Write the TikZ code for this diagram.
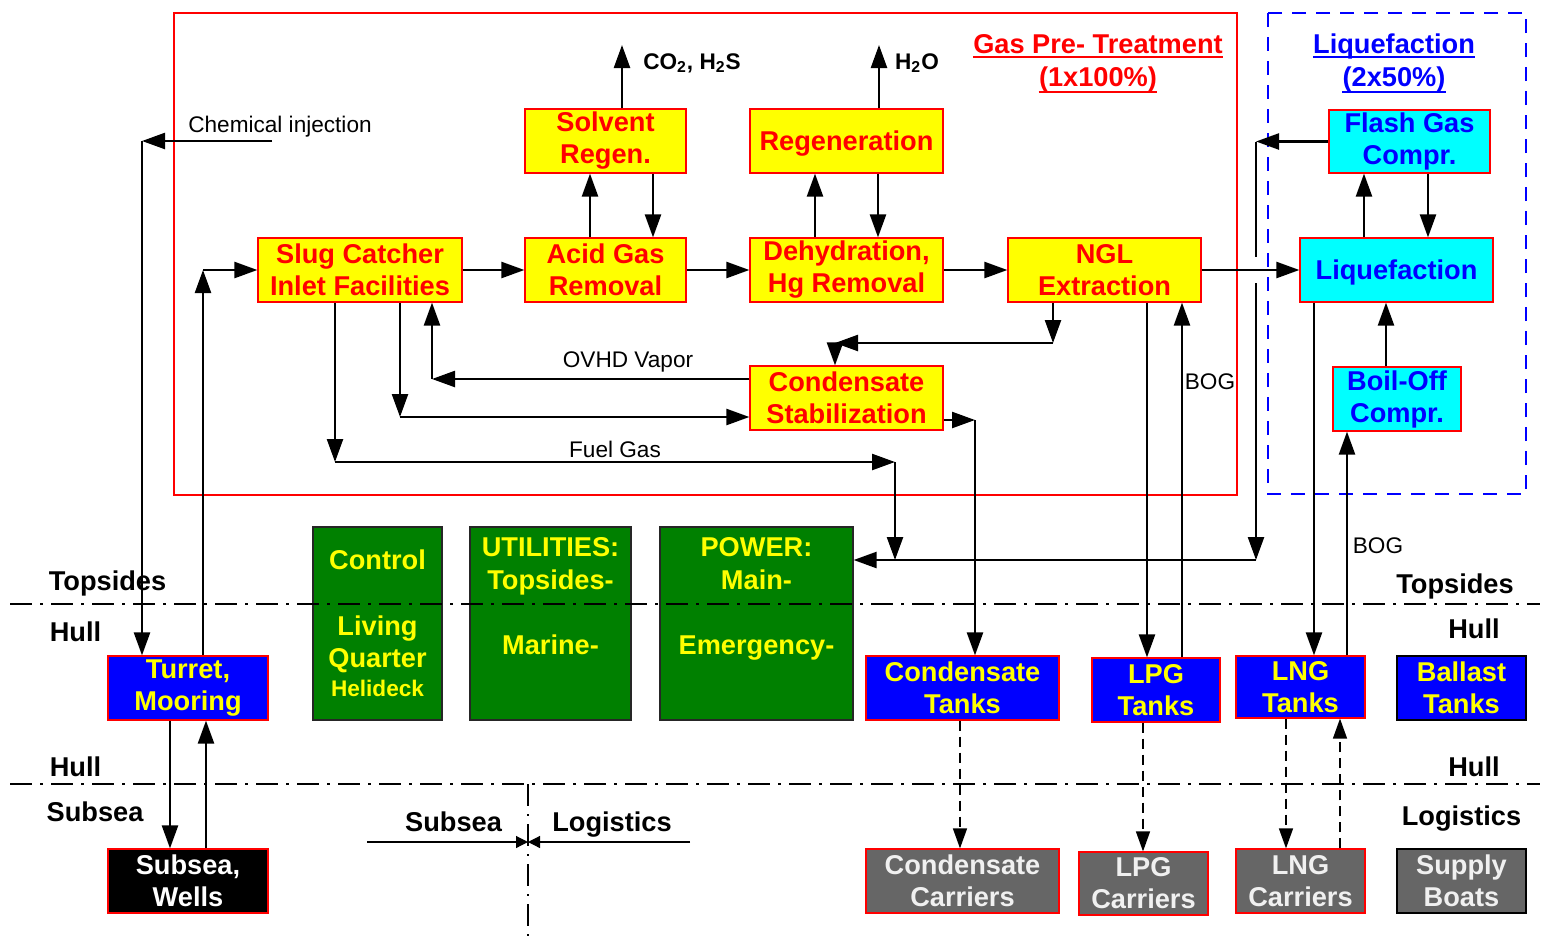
\documentclass[tikz,border=0pt]{standalone}
\usepackage{fontspec}
\setmainfont{Liberation Sans}
\usetikzlibrary{arrows.meta}
\definecolor{boxgreen}{HTML}{008000}
\definecolor{boxgray}{HTML}{666666}
\definecolor{graytext}{HTML}{F0F0F0}
\definecolor{boxcyan}{HTML}{00FFFF}
\definecolor{txtblue}{HTML}{0000FF}
\definecolor{txtred}{HTML}{FF0000}
\definecolor{boxyellow}{HTML}{FFFF00}
\newcommand\boxfont{\bfseries\fontsize{13.6}{16}\selectfont}
\newcommand\smallbold{\bfseries\fontsize{11.3}{13}\selectfont}
\newcommand\labfont{\fontsize{11.3}{13}\selectfont}
\begin{document}
\begin{tikzpicture}[x=0.5pt,y=-0.5pt,
  box/.style={draw=txtred, line width=0.6pt, inner sep=0pt, align=center, font=\boxfont},
  ybox/.style={box, fill=boxyellow, text=txtred},
  cbox/.style={box, fill=boxcyan, text=txtblue},
  bbox/.style={box, fill=txtblue, text=boxyellow},
  grbox/.style={box, fill=boxgray, text=graytext},
  oneline/.style={text height=9.7pt, text depth=0pt},
  gbox/.style={draw=black!85, line width=0.6pt, fill=boxgreen, inner sep=0pt},
  gtxt/.style={inner sep=0pt, font=\boxfont, text=boxyellow, text height=9.7pt, text depth=0pt},
  blab/.style={inner sep=0pt, font=\boxfont, text height=9.7pt, text depth=0pt},
  lab/.style={inner sep=0pt, font=\labfont, text height=8.1pt, text depth=0pt},
  arr/.style={line width=1.2pt, -{Triangle[length=11.5pt,width=8pt]}},
  ln/.style={line width=1.2pt},
  darr/.style={line width=0.7pt, dash pattern=on 5pt off 3pt, -{Triangle[length=10pt,width=7pt]}},
  tarr/.style={line width=0.6pt, -{Triangle[length=6pt,width=6pt]}},
  sepline/.style={line width=1.4pt, dash pattern=on 11pt off 4pt on 1.5pt off 4pt},
  vsep/.style={line width=0.8pt, dash pattern=on 11pt off 4pt on 1pt off 4pt},
  uline/.style={line width=1.1pt}]
\useasboundingbox (0,0) rectangle (1544,943);
\fill[white] (0,0) rectangle (1544,943);

% frames
\draw[txtred, line width=1pt] (174,13) rectangle (1237,495);
\draw[txtblue, line width=1pt, dash pattern=on 7pt off 5pt] (1268,13) rectangle (1526,494);
\node[blab, text=txtred] (gptA) at (1098,44) {Gas Pre- Treatment};
\node[blab, text=txtred] (gptB) at (1098,77) {(1x100\%)};
\node[blab, text=txtblue] (lqA) at (1394,44) {Liquefaction};
\node[blab, text=txtblue] (lqB) at (1394,77) {(2x50\%)};
\draw[uline, txtred] ([yshift=-1.6pt]gptA.south west) -- ([yshift=-1.6pt]gptA.south east);
\draw[uline, txtred] ([yshift=-2.6pt]gptB.south west) -- ([yshift=-2.6pt]gptB.south east);
\draw[uline, txtblue] ([yshift=-1.6pt]lqA.south west) -- ([yshift=-1.6pt]lqA.south east);
\draw[uline, txtblue] ([yshift=-2.6pt]lqB.south west) -- ([yshift=-2.6pt]lqB.south east);

% process boxes
\node[ybox, minimum width=102pt, minimum height=32pt] (slug) at (360,270) {Slug Catcher\\Inlet Facilities};
\node[ybox, minimum width=80.5pt, minimum height=32pt] (acid) at (605.5,270) {Acid Gas\\Removal};
\node[ybox, minimum width=80.5pt, minimum height=32pt] (solv) at (605.5,141) {Solvent\\Regen.};
\node[ybox, oneline, minimum width=96.5pt, minimum height=32pt] (regen) at (846.5,141) {Regeneration};
\node[ybox, minimum width=96.5pt, minimum height=32pt] (dehy) at (846.5,270) {Dehydration,\\Hg Removal};
\node[ybox, minimum width=96.5pt, minimum height=32pt] (ngl) at (1104.5,270) {NGL\\Extraction};
\node[ybox, minimum width=96.5pt, minimum height=32pt] (cstab) at (846.5,398) {Condensate\\Stabilization};
\node[cbox, minimum width=80.5pt, minimum height=31.5pt] (flash) at (1409.5,141.5) {Flash Gas\\Compr.};
\node[cbox, oneline, minimum width=96.5pt, minimum height=32pt] (liq) at (1396.5,270) {Liquefaction};
\node[cbox, minimum width=64pt, minimum height=32pt] (boil) at (1397,399) {Boil-Off\\Compr.};

% hull / subsea boxes
\node[bbox, minimum width=80pt, minimum height=32pt] (turret) at (188,688) {Turret,\\Mooring};
\node[box, fill=black, text=white, minimum width=80pt, minimum height=32pt] (wells) at (188,881) {Subsea,\\Wells};
\node[bbox, minimum width=96.5pt, minimum height=32pt] (ctank) at (962.5,688) {Condensate\\Tanks};
\node[bbox, minimum width=64pt, minimum height=32pt] (lpgt) at (1156,690) {LPG\\Tanks};
\node[bbox, minimum width=64.5pt, minimum height=31pt] (lngt) at (1300.5,687) {LNG\\Tanks};
\node[bbox, draw=black, minimum width=64.5pt, minimum height=32pt] (ballast) at (1461.5,688) {Ballast\\Tanks};
\node[grbox, minimum width=96.5pt, minimum height=32pt] (ccar) at (962.5,881) {Condensate\\Carriers};
\node[grbox, minimum width=64.5pt, minimum height=31.5pt] (lpgc) at (1143.5,883.5) {LPG\\Carriers};
\node[grbox, minimum width=64.5pt, minimum height=32pt] (lngc) at (1300.5,881) {LNG\\Carriers};
\node[grbox, draw=black, minimum width=64.5pt, minimum height=32pt] (supply) at (1461.5,881) {Supply\\Boats};

% green boxes
\node[gbox, minimum width=64.5pt, minimum height=96.5pt] (control) at (377.5,623.5) {};
\node[gbox, minimum width=80.5pt, minimum height=96.5pt] (util) at (550.5,623.5) {};
\node[gbox, minimum width=96.5pt, minimum height=96.5pt] (power) at (756.5,623.5) {};
\node[gtxt] (ctlA) at (377.5,560) {Control};
\node[gtxt] (ctlB) at (377.5,626) {Living};
\node[gtxt] (ctlC) at (377.5,658) {Quarter};
\node[gtxt, font=\smallbold, text height=8.1pt] (ctlD) at (377.5,688) {Helideck};
\node[gtxt] (utA) at (550.5,547) {UTILITIES:};
\node[gtxt] (utB) at (550.5,580) {Topsides-};
\node[gtxt] (utC) at (550.5,645) {Marine-};
\node[gtxt] (pwA) at (756.5,547) {POWER:};
\node[gtxt] (pwB) at (756.5,580) {Main-};
\node[gtxt] (pwD) at (756.5,645) {Emergency-};

% zone labels
\node[blab] (lTop) at (107.5,581) {Topsides};
\node[blab] (lHull1) at (75.5,632) {Hull};
\node[blab] (lHull2) at (75.5,767) {Hull};
\node[blab] (lSub) at (95,812) {Subsea};
\node[blab] (rTop) at (1455,584) {Topsides};
\node[blab] (rHull1) at (1474,629) {Hull};
\node[blab] (rHull2) at (1474,767) {Hull};
\node[blab] (rLog) at (1461.5,816) {Logistics};
\node[blab] (mSub) at (453.5,822) {Subsea};
\node[blab] (mLog) at (612,822) {Logistics};

% flow labels
\node[lab] (ciL) at (280,124) {Chemical injection};
\node[lab, font=\smallbold] (co2L) at (692,61) {CO\textsubscript{2}, H\textsubscript{2}S};
\node[lab, font=\smallbold] (h2oL) at (917,61) {H\textsubscript{2}O};
\node[lab] (ovhdL) at (628,359) {OVHD Vapor};
\node[lab] (fuelL) at (615,449) {Fuel Gas};
\node[lab] (bog1) at (1210,381) {BOG};
\node[lab] (bog2) at (1378,545) {BOG};

% coordinates for connector bends
\coordinate (ciS) at (272,141);
\coordinate (ciC) at (142,141);
\coordinate (tuC) at (203,270);
\coordinate (x590) at (590,0);
\coordinate (x653) at (653,0);
\coordinate (co2) at (622,45);
\coordinate (x815) at (815,0);
\coordinate (x878) at (878,0);
\coordinate (h2o) at (879,45);
\coordinate (fgC) at (1256,141.5);
\coordinate (fgG1) at (1256,257);
\coordinate (fgG2) at (1256,283);
\coordinate (pwC) at (1256,560);
\coordinate (fA) at (335,462);
\coordinate (fB) at (895,462);
\coordinate (fC) at (895,560);
\coordinate (sA) at (400,417);
\coordinate (oA) at (432,379);
\coordinate (nA) at (1053,343);
\coordinate (nB) at (835,343);
\coordinate (cA) at (975,420);
\coordinate (x1147) at (1147,0);
\coordinate (x1182) at (1182,0);
\coordinate (x1314) at (1314,0);
\coordinate (x1347) at (1347,0);
\coordinate (x1386) at (1386,0);
\coordinate (x1364) at (1364,0);
\coordinate (x1428) at (1428,0);
\coordinate (x170) at (170,0);
\coordinate (x206) at (206,0);
\coordinate (x960) at (960,0);
\coordinate (x1143) at (1143,0);
\coordinate (x1286) at (1286,0);
\coordinate (x1340) at (1340,0);
\coordinate (sl) at (528,842);
\coordinate (slL) at (367,842);
\coordinate (slR) at (690,842);

% connectors
\draw[arr] (ciS) -- (ciC);
\draw[arr] (ciC) -- (ciC |- turret.north);
\draw[arr] (tuC |- turret.north) -- (tuC);
\draw[arr] (tuC) -- (slug.west);
\draw[arr] (slug.east) -- (acid.west);
\draw[arr] (acid.east) -- (dehy.west);
\draw[arr] (dehy.east) -- (ngl.west);
\draw[arr] (acid.north -| x590) -- (solv.south -| x590);
\draw[arr] (solv.south -| x653) -- (acid.north -| x653);
\draw[arr] (solv.north -| co2) -- (co2);
\draw[arr] (dehy.north -| x815) -- (regen.south -| x815);
\draw[arr] (regen.south -| x878) -- (dehy.north -| x878);
\draw[arr] (regen.north -| h2o) -- (h2o);
\draw[arr] (ngl.east) -- (liq.west);
\draw[arr] (flash.west) -- (fgC);
\draw[ln] (fgC) -- (fgG1);
\draw[arr] (fgG2) -- (pwC);
\draw[arr] (pwC) -- (power.east |- pwC);
\draw[arr] (slug.south -| fA) -- (fA);
\draw[arr] (fA) -- (fB);
\draw[arr] (fB) -- (fC);
\draw[arr] (slug.south -| sA) -- (sA);
\draw[arr] (sA) -- (cstab.west |- sA);
\draw[arr] (cstab.west |- oA) -- (oA);
\draw[arr] (oA) -- (slug.south -| oA);
\draw[arr] (ngl.south -| nA) -- (nA);
\draw[arr] (nA) -- (nB);
\draw[arr] (nB) -- (cstab.north -| nB);
\draw[arr] (cstab.east |- cA) -- (cA);
\draw[arr] (cA) -- (ctank.north -| cA);
\draw[arr] (ngl.south -| x1147) -- (lpgt.north -| x1147);
\draw[arr] (lpgt.north -| x1182) -- (ngl.south -| x1182);
\draw[arr] (liq.south -| x1314) -- (lngt.north -| x1314);
\draw[arr] (lngt.north -| x1347) -- (boil.south -| x1347);
\draw[arr] (boil.north -| x1386) -- (liq.south -| x1386);
\draw[arr] (liq.north -| x1364) -- (flash.south -| x1364);
\draw[arr] (flash.south -| x1428) -- (liq.north -| x1428);
\draw[arr] (turret.south -| x170) -- (wells.north -| x170);
\draw[arr] (wells.north -| x206) -- (turret.south -| x206);
\draw[darr] (ctank.south -| x960) -- (ccar.north -| x960);
\draw[darr] (lpgt.south -| x1143) -- (lpgc.north -| x1143);
\draw[darr] (lngt.south -| x1286) -- (lngc.north -| x1286);
\draw[darr] (lngc.north -| x1340) -- (lngt.south -| x1340);

% zone separators
\draw[sepline] (10,604) -- (1540,604);
\draw[sepline] (10,784) -- (1540,784);
\draw[vsep] (528,784) -- (528,943);
\draw[tarr] (slL) -- (sl);
\draw[tarr] (slR) -- (sl);
\end{tikzpicture}
\end{document}
